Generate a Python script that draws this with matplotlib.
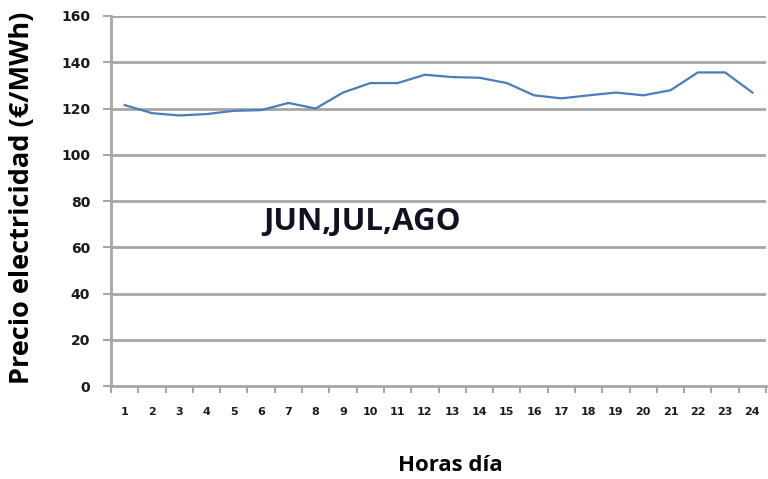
import matplotlib
matplotlib.use("Agg")
import matplotlib.pyplot as plt

hours = list(range(1, 25))
prices = [121.5, 118, 117, 117.6, 119, 119.3, 122.4, 120, 126.9, 131, 131, 134.6,
          133.6, 133.3, 131, 125.7, 124.4, 125.7, 126.9, 125.7, 127.9, 135.6, 135.6, 126.9]
yticks = [0, 20, 40, 60, 80, 100, 120, 140, 160]

plt.rcParams['font.family'] = ['Open Sans', 'DejaVu Sans']

fig = plt.figure(figsize=(7.68, 4.79), dpi=100)
ax = fig.add_axes([0.1445, 0.194, 0.853, 0.7726])

grid_c = '#a6a6a6'
ax.plot(hours, prices, color='#4a7ebb', lw=1.6, zorder=3)
ax.set_xlim(0.5, 24.5)
ax.set_ylim(0, 160)
ax.set_yticks(yticks)
ax.set_yticklabels([str(v) for v in yticks], fontsize=10, fontweight='bold',
                   family='DejaVu Sans', color='#1a1a1a')
ax.set_xticks(hours)
ax.set_xticklabels([str(h) for h in hours], fontsize=8, fontweight='bold',
                   family='DejaVu Sans', color='#1a1a1a')
ax.set_xticks([h + 0.5 for h in [0] + hours], minor=True)
ax.tick_params(axis='x', which='major', length=0, pad=15)
ax.tick_params(axis='x', which='minor', length=5, color=grid_c, width=1.5)
ax.tick_params(axis='y', length=6, color=grid_c, width=1.5, pad=9)

for v in yticks[1:]:
    ax.axhline(v, color=grid_c, lw=2, zorder=1)
for s in ['top', 'right']:
    ax.spines[s].set_visible(False)
for s in ['left', 'bottom']:
    ax.spines[s].set_color(grid_c)
    ax.spines[s].set_linewidth(2)

ax.set_ylabel('Precio electricidad (€/MWh)', fontsize=19.5, fontweight='bold')
ax.yaxis.set_label_coords(-0.116, 0.508)
ax.set_xlabel('Horas día', fontsize=16, fontweight='bold')
ax.xaxis.set_label_coords(0.518, -0.185)
ax.text(9.7, 71, 'JUN,JUL,AGO', fontsize=22.5, fontweight='bold', color='#111122',
        ha='center', va='center')

fig.savefig('out.png', dpi=100)
